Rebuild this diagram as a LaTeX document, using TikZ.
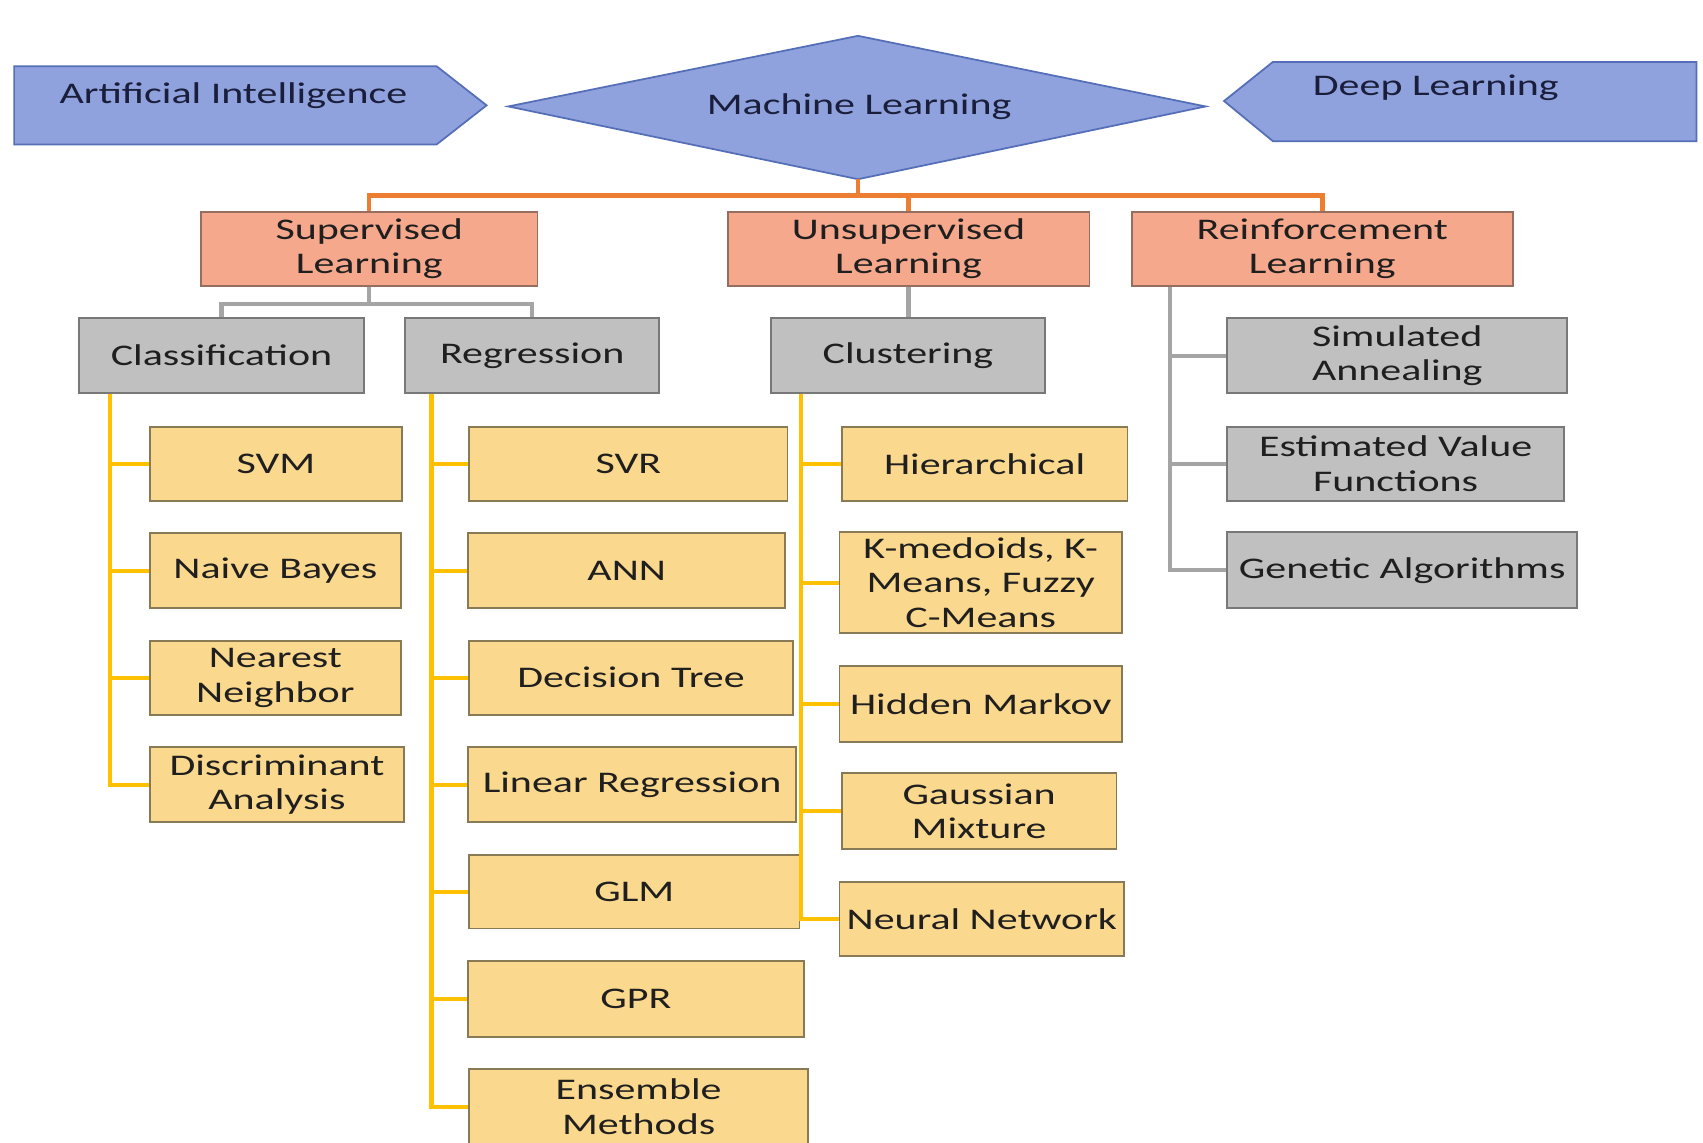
\documentclass[tikz,border=0pt]{standalone}
\usepackage{fontspec}
\setmainfont{Carlito}[FakeStretch=1.4]
\usetikzlibrary{shapes.geometric,calc}

\definecolor{bluefill}{RGB}{143,162,221}
\definecolor{blueedge}{RGB}{84,110,184}
\definecolor{navytext}{RGB}{26,30,58}
\definecolor{salmonfill}{RGB}{245,168,140}
\definecolor{salmonedge}{RGB}{150,110,95}
\definecolor{grayfill}{RGB}{192,192,192}
\definecolor{grayedge}{RGB}{120,120,120}
\definecolor{yellowfill}{RGB}{250,216,142}
\definecolor{yellowedge}{RGB}{135,122,85}
\definecolor{orangeline}{RGB}{237,125,49}
\definecolor{grayline}{RGB}{165,165,165}
\definecolor{goldline}{RGB}{255,192,0}

\begin{document}
\begin{tikzpicture}[x=1pt,y=-1pt,
  every node/.style={font=\fontsize{27.6}{32}\selectfont, align=center,
    inner sep=0pt, text=black!88},
  box/.style={draw, line width=1.6pt, minimum height=68pt},
  blueshape/.style={draw=blueedge, fill=bluefill, line width=1.6pt},
  salmonbox/.style={box, fill=salmonfill, draw=salmonedge},
  graybox/.style={box, fill=grayfill, draw=grayedge},
  yellowbox/.style={box, fill=yellowfill, draw=yellowedge},
  orangelink/.style={draw=orangeline, line width=4pt},
  graylink/.style={draw=grayline, line width=4pt},
  goldlink/.style={draw=goldline, line width=4pt},
]
% canvas
\fill[white] (0,0) rectangle (1568,1052);
\useasboundingbox (0,0) rectangle (1568,1052);

% ---- top row ----
\draw[blueshape] (13,61) -- (402,61) -- (448,97) -- (402,133) -- (13,133) -- cycle;
\node[text=navytext] (ai) at (215,88) {Artificial Intelligence};

\draw[blueshape] (468,98) -- (790,33) -- (1110,98) -- (790,165) -- cycle;
\node[text=navytext] (ml) at (791,98) {Machine Learning};
\coordinate (mlbottom) at (790,165);

\draw[blueshape] (1127,93) -- (1172,57) -- (1562,57) -- (1562,130) -- (1172,130) -- cycle;
\node[text=navytext] (dl) at (1322,81) {Deep Learning};

% ---- learning paradigms ----
\node[salmonbox, minimum width=310pt] (sup)    at (340,229)    {Supervised\\Learning};
\node[salmonbox, minimum width=333pt] (unsup)  at (836.5,229)  {Unsupervised\\Learning};
\node[salmonbox, minimum width=351pt] (reinf)  at (1217.5,229) {Reinforcement\\Learning};

% ---- task families ----
\node[graybox, minimum width=262pt, minimum height=69pt] (class) at (204,327.5) {Classification};
\node[graybox, minimum width=234pt, minimum height=69pt] (regr)  at (490,327.5) {Regression};
\node[graybox, minimum width=252pt, minimum height=69pt] (clust) at (836,327.5) {Clustering};

\node[graybox, minimum width=313pt, minimum height=69pt] (simann)  at (1286.5,327.5) {Simulated\\Annealing};
\node[graybox, minimum width=310pt] (estval)  at (1285,427) {Estimated Value\\Functions};
\node[graybox, minimum width=322pt, minimum height=70pt] (genetic) at (1291,525) {Genetic Algorithms};

% ---- classification methods ----
\node[yellowbox, minimum width=232pt] (svm) at (254,427)   {SVM};
\node[yellowbox, minimum width=231pt, minimum height=69pt] (nb)  at (253.5,525.5) {Naive Bayes};
\node[yellowbox, minimum width=231pt] (nn)  at (253.5,624) {Nearest\\Neighbor};
\node[yellowbox, minimum width=234pt, minimum height=69pt] (da)  at (255,722.5) {Discriminant\\Analysis};

% ---- regression methods ----
\node[yellowbox, minimum width=293pt] (svr) at (578.5,427) {SVR};
\node[yellowbox, minimum width=292pt, minimum height=69pt] (ann) at (577,525.5) {ANN};
\node[yellowbox, minimum width=298pt] (dt)  at (581,624)   {Decision Tree};
\node[yellowbox, minimum width=302pt, minimum height=69pt] (lr)  at (582,722.5) {Linear Regression};
\node[yellowbox, minimum width=304pt] (glm) at (584,821)   {GLM};
\node[yellowbox, minimum width=309pt, minimum height=70pt] (gpr) at (585.5,920) {GPR};
\node[yellowbox, minimum width=312pt, minimum height=69pt] (ens) at (588,1019)  {Ensemble\\Methods};

% ---- clustering methods ----
\node[yellowbox, minimum width=263pt] (hier) at (906.5,427) {Hierarchical};
\node[yellowbox, minimum width=260pt, minimum height=93pt] (kmed) at (903,536.5) {K-medoids, K-\\Means, Fuzzy\\C-Means};
\node[yellowbox, minimum width=260pt, minimum height=70pt] (hmm)  at (903,648)   {Hidden Markov};
\node[yellowbox, minimum width=253pt, minimum height=70pt] (gmm)  at (901.5,747) {Gaussian\\Mixture};
\node[yellowbox, minimum width=262pt] (nnet) at (904,846)   {Neural Network};

% ---- connectors ----
\coordinate (obus) at (790,180);
\draw[orangelink] (mlbottom) -- (obus);
\draw[orangelink] (sup.north) -- (sup.north |- obus) -- (reinf.north |- obus) -- (reinf.north);
\draw[orangelink] (unsup.north) -- (unsup.north |- obus);

\coordinate (sbus) at (340,280);
\draw[graylink] (sup.south) -- (sup.south |- sbus);
\draw[graylink] (class.north) -- (class.north |- sbus) -- (regr.north |- sbus) -- (regr.north);
\draw[graylink] (unsup.south) -- (unsup.south |- clust.north);

\coordinate (rtrunk) at ($(reinf.south west)+(36,0)$);
\draw[graylink] (rtrunk) -- (rtrunk |- genetic.west) -- (genetic.west);
\foreach \n in {simann,estval} \draw[graylink] (rtrunk |- \n.west) -- (\n.west);

\coordinate (ctrunk) at ($(class.south west)+(29,0)$);
\draw[goldlink] (ctrunk) -- (ctrunk |- da.west) -- (da.west);
\foreach \n in {svm,nb,nn} \draw[goldlink] (ctrunk |- \n.west) -- (\n.west);

\coordinate (gtrunk) at ($(regr.south west)+(25,0)$);
\draw[goldlink] (gtrunk) -- (gtrunk |- ens.west) -- (ens.west);
\foreach \n in {svr,ann,dt,lr,glm,gpr} \draw[goldlink] (gtrunk |- \n.west) -- (\n.west);

\coordinate (ktrunk) at ($(clust.south west)+(28,0)$);
\draw[goldlink] (ktrunk) -- (ktrunk |- nnet.west) -- (nnet.west);
\foreach \n in {hier,kmed,hmm,gmm} \draw[goldlink] (ktrunk |- \n.west) -- (\n.west);
\end{tikzpicture}
\end{document}
